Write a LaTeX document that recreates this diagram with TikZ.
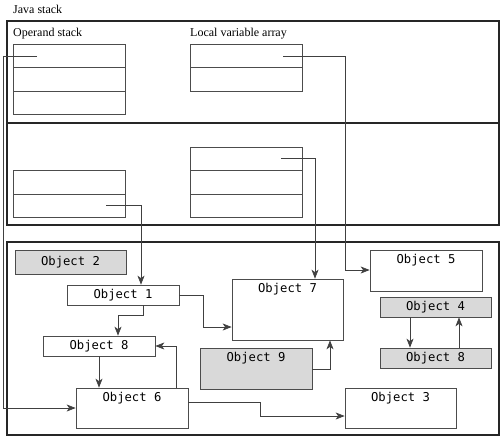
\documentclass[tikz,border=0pt]{standalone}
\usepackage{fontspec}
\setmainfont{Liberation Serif}
\newfontfamily\objfont{DejaVu Sans Mono}
\usetikzlibrary{arrows.meta}
\begin{document}
\begin{tikzpicture}[x=1pt,y=-1pt,
  frame/.style={draw=black!85,line width=1.1pt},
  cell/.style={draw=black!70,line width=0.7pt,minimum width=112pt,minimum height=23.5pt,inner sep=0pt},
  obj/.style={draw=black!70,line width=0.7pt,fill=white,minimum width=112pt,minimum height=20pt,inner sep=0pt,font=\objfont\fontsize{12.2}{14}\selectfont},
  grayobj/.style={obj,fill=black!15},
  tallobj/.style={obj,label={[anchor=center,yshift=-10.5pt,font=\objfont\fontsize{12.2}{14}\selectfont]north:#1}},
  ref/.style={draw=black!75,line width=0.7pt},
  arr/.style={ref,-{Stealth[length=9pt,width=7pt,inset=2.5pt]}},
  ttl/.style={font=\fontsize{12}{14}\selectfont,anchor=base west,inner sep=0pt}
]
\useasboundingbox (0,0) rectangle (500,437);
% frames
\draw[frame] (7,21) rectangle (499,123);
\draw[frame] (7,123) rectangle (499,225);
\draw[frame] (7,242) rectangle (499,435);
\node[ttl] (tjs) at (13,13) {Java stack};
\node[ttl] (tos) at (13,36) {Operand stack};
\node[ttl] (tlv) at (190,36) {Local variable array};
% operand stack
\node[cell] (os1) at (69,56) {};
\node[cell] (os2) at (69,79.5) {};
\node[cell] (os3) at (69,103) {};
% local variable array
\node[cell] (la1) at (246,56) {};
\node[cell] (la2) at (246,79.5) {};
% second frame
\node[cell] (lb1) at (69,182.5) {};
\node[cell] (lb2) at (69,206) {};
\node[cell] (rb1) at (246,159) {};
\node[cell] (rb2) at (246,182.5) {};
\node[cell] (rb3) at (246,206) {};
% heap objects
\node[grayobj,minimum width=111pt,minimum height=24pt] (o2) at (70.5,262) {Object 2};
\node[obj] (o1) at (123,295) {Object 1};
\node[obj] (o8a) at (99,346) {Object 8};
\node[tallobj={Object 6},minimum height=40pt] (o6) at (132,408) {};
\node[tallobj={Object 7},minimum width=111pt,minimum height=61pt] (o7) at (287.5,309.5) {};
\node[tallobj={Object 9},fill=black!15,minimum height=41pt] (o9) at (256,368.5) {};
\node[tallobj={Object 5},minimum height=41pt] (o5) at (426,270.5) {};
\node[grayobj,minimum width=111pt] (o4) at (435.5,307) {Object 4};
\node[grayobj,minimum width=111pt] (o8b) at (435.5,358) {Object 8};
\node[tallobj={Object 3},minimum width=111pt,minimum height=40pt] (o3) at (400.5,408) {};
% reference start points
\coordinate (p1) at (37,56);
\coordinate (p2) at (283,56);
\coordinate (p3) at (106,205);
\coordinate (p4) at (281,158);
% references from stack
\draw[arr] (p1) -- (3,56) |- (o6.west);
\draw[arr] (p2) -- (345,56) |- (o5.west |- 0,270);
\draw[arr] (p3) -- (141,205) -- (o1.north -| 141,0);
\draw[arr] (p4) -- (315,158) -- (o7.north -| 315,0);
% heap references
\draw[arr] (o1.east) -- (203,295) |- (o7.west |- 0,327);
\draw[arr] (o1.south -| 143,0) -- (143,315) -| (o8a.north -| 118,0);
\draw[arr] (o8a.south -| 99,0) -- (o6.north -| 99,0);
\draw[arr] (o6.north -| 176,0) |- (o8a.east);
\draw[arr] (o6.east |- 0,402) -- (260,402) |- (o3.west |- 0,416);
\draw[arr] (o9.east |- 0,369) -- (330,369) -- (o7.south -| 330,0);
\draw[arr] (o4.south -| 410,0) -- (o8b.north -| 410,0);
\draw[arr] (o8b.north -| 459,0) -- (o4.south -| 459,0);
\end{tikzpicture}
\end{document}
